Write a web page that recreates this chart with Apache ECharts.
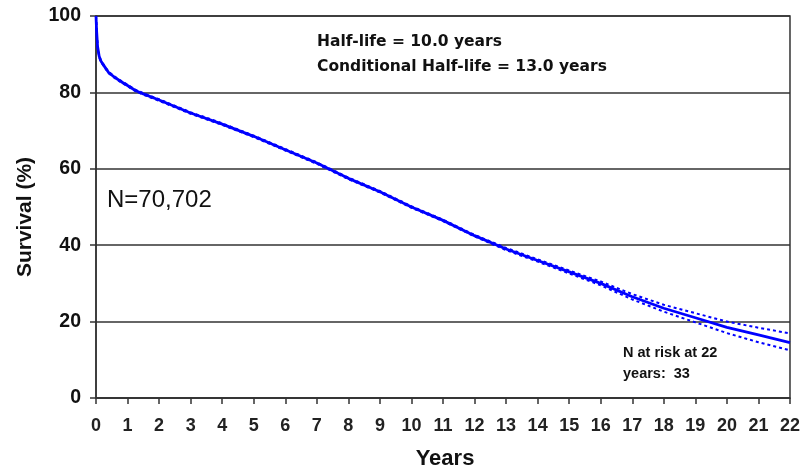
<!DOCTYPE html>
<html>
<head>
<meta charset="utf-8">
<script src="https://cdn.jsdelivr.net/npm/echarts@6/dist/echarts.min.js"></script>
<style>
html,body{margin:0;padding:0;background:#fff;}
#chart{width:803px;height:472px;}
</style>
</head>
<body>
<div id="chart"></div>
<script>
const years = [0,0.02,0.05,0.1,0.15,0.25,0.4,0.6,0.8,1,1.25,1.5,2,3,4,5,6,7,8,9,10,11,12,13,14,15,16,17,18,19,20,21,22];
const survival = [100,96,92,89.5,88.3,87,85.2,83.9,82.8,81.8,80.5,79.6,78,74.6,71.7,68.5,65,61.5,57.5,54,50,46.5,42.5,39,36,33,30,26.5,23.5,21,18.5,16.5,14.5];
const upperCI = [100,96.2,92.2,89.7,88.5,87.2,85.4,84.1,83,82,80.7,79.8,78.2,74.8,71.9,68.7,65.2,61.7,57.7,54.2,50.2,46.7,42.7,39.3,36.3,33.4,30.5,27.2,24.4,22.2,20,18.4,16.9];
const lowerCI = [100,95.8,91.8,89.3,88.1,86.8,85,83.7,82.6,81.6,80.3,79.4,77.8,74.4,71.5,68.3,64.8,61.3,57.3,53.8,49.8,46.3,42.3,38.7,35.7,32.6,29.5,25.8,22.6,19.8,17,14.6,12.5];
const yTicks = [0,20,40,60,80,100];
const xTicks = [0,1,2,3,4,5,6,7,8,9,10,11,12,13,14,15,16,17,18,19,20,21,22];

const FONT = '"Liberation Sans", Arial, sans-serif';
const FONT2 = '"DejaVu Sans", Verdana, sans-serif';
const pairs = (ys) => years.map((x,i)=>[x, ys[i]]);

const chart = echarts.init(document.getElementById('chart'), null, {renderer:'canvas'});
chart.setOption({
  animation:false,
  backgroundColor:'#fff',
  grid:{left:96,right:11,top:16,bottom:74,show:true,borderColor:'#333',borderWidth:1.5,backgroundColor:'transparent'},
  xAxis:{
    type:'value',min:xTicks[0],max:xTicks[xTicks.length-1],interval:1,
    axisLine:{show:true,lineStyle:{color:'#333',width:1.5}},
    axisTick:{show:true,inside:false,length:6,lineStyle:{color:'#333',width:1.5}},
    axisLabel:{color:'#222',fontFamily:FONT,fontWeight:'bold',fontSize:18,margin:19},
    splitLine:{show:false}
  },
  yAxis:{
    type:'value',min:yTicks[0],max:yTicks[yTicks.length-1],interval:20,
    axisLine:{show:true,lineStyle:{color:'#333',width:1.5}},
    axisTick:{show:true,inside:false,length:6,lineStyle:{color:'#333',width:1.5}},
    axisLabel:{color:'#111',fontFamily:FONT,fontWeight:'bold',fontSize:19.5,margin:15},
    splitLine:{show:true,lineStyle:{color:'#333',width:1.5}}
  },
  series:[
    {type:'line',data:pairs(upperCI),showSymbol:false,lineStyle:{color:'#0000ff',width:2,type:[3,3]},z:2},
    {type:'line',data:pairs(lowerCI),showSymbol:false,lineStyle:{color:'#0000ff',width:2,type:[3,3]},z:2},
    {type:'line',data:pairs(survival),showSymbol:false,lineStyle:{color:'#0000ff',width:2.8},z:3}
  ],
  graphic:[
    {type:'text',x:317,y:42,style:{text:'Half-life = 10.0 years',font:'bold 15.5px '+FONT2,fill:'#111',align:'left',verticalAlign:'middle'}},
    {type:'text',x:317,y:67,style:{text:'Conditional Half-life = 13.0 years',font:'bold 15.5px '+FONT2,fill:'#111',align:'left',verticalAlign:'middle'}},
    {type:'text',x:107,y:200,style:{text:'N=70,702',font:'normal 24px '+FONT,fill:'#111',align:'left',verticalAlign:'middle'}},
    {type:'text',x:623,y:342,style:{text:'N at risk at 22\nyears:  33',font:'bold 14.5px '+FONT,fill:'#111',lineHeight:21.5,align:'left',verticalAlign:'top'}},
    {type:'text',x:445,y:459,style:{text:'Years',font:'bold 22px '+FONT,fill:'#111',align:'center',verticalAlign:'middle'}},
    {type:'text',x:25,y:217,rotation:Math.PI/2,style:{text:'Survival (%)',font:'bold 21px '+FONT,fill:'#111',align:'center',verticalAlign:'middle'}}
  ]
});
</script>
</body>
</html>
